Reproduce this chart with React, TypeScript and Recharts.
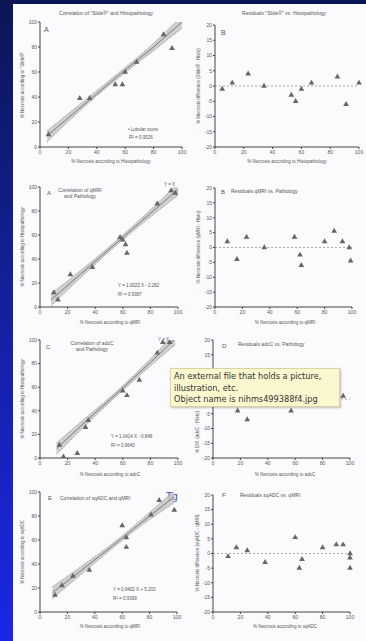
import { ComposedChart, Area, Line, Scatter, XAxis, YAxis, ZAxis, ReferenceLine } from 'recharts'
import type { ReactNode } from 'react'

// shared axis ticks
const necrosisTicks = [0, 20, 40, 60, 80, 100]
const residualTicks = [-20, -15, -10, -5, 0, 5, 10, 15, 20]
// the note box sits over the middle of panel D's axis
const adcResidualTicks = [-20, -15, -10, -5, 15, 20]

// A: Slide vs histopathology
const slidePoints = [
  { x: 6, y: 10 }, { x: 28, y: 39 }, { x: 35, y: 39 }, { x: 53, y: 50 }, { x: 58, y: 50 },
  { x: 60, y: 60 }, { x: 68, y: 68 }, { x: 87, y: 90 }, { x: 93, y: 79 },
]
const slideBandX = [5, 30, 55, 80, 100]
const slideFit = [9, 33, 57, 80, 100]
const slideLow = [4, 31, 55, 77, 95]
const slideHigh = [13, 36, 59, 83, 105]

// B: Slide residuals
const slideResiduals = [
  { x: 5, y: -1 }, { x: 12, y: 1 }, { x: 23, y: 4 }, { x: 34, y: 0 }, { x: 53, y: -3 },
  { x: 56, y: -5 }, { x: 60, y: -1 }, { x: 67, y: 1 }, { x: 85, y: 3 }, { x: 91, y: -6 }, { x: 100, y: 1 },
]

// A (2nd): qMRI vs pathology
const qmriPoints = [
  { x: 10, y: 12 }, { x: 13, y: 6 }, { x: 22, y: 27 }, { x: 38, y: 33 }, { x: 58, y: 58 }, { x: 60, y: 56 },
  { x: 62, y: 52 }, { x: 63, y: 45 }, { x: 85, y: 86 }, { x: 95, y: 97 }, { x: 98, y: 95 },
]
const qmriBandX = [8, 30, 55, 80, 100]
const qmriFit = [6, 28, 53, 78, 98]
const qmriLow = [1, 25, 51, 75, 93]
const qmriHigh = [11, 31, 55, 81, 103]

const qmriResiduals = [
  { x: 9, y: 2 }, { x: 16, y: -4 }, { x: 23, y: 3.5 }, { x: 36, y: 0 }, { x: 58, y: 3.5 }, { x: 62, y: -2.5 },
  { x: 63, y: -6 }, { x: 80, y: 2 }, { x: 87, y: 5.5 }, { x: 93, y: 2 }, { x: 98, y: 0 }, { x: 99, y: -4.5 },
]

// C: adcC vs pathology
const adcPoints = [
  { x: 14, y: 11 }, { x: 17, y: 1 }, { x: 27, y: 4 }, { x: 33, y: 26 }, { x: 35, y: 32 }, { x: 60, y: 57 },
  { x: 63, y: 53 }, { x: 72, y: 66 }, { x: 85, y: 89 }, { x: 89, y: 98 }, { x: 94, y: 98 },
]
const adcBandX = [12, 35, 55, 80, 98]
const adcFit = [8, 33, 54, 81, 101]
const adcLow = [3, 30, 52, 78, 96]
const adcHigh = [13, 36, 56, 84, 106]

const adcResiduals = [
  { x: 10, y: 3 }, { x: 18, y: -4 }, { x: 25, y: -7 }, { x: 40, y: 2 }, { x: 57, y: -4 },
  { x: 63, y: -1 }, { x: 72, y: 1 }, { x: 85, y: 3 }, { x: 91, y: -2 }, { x: 95, y: 1 },
]

// E: sqADC vs qMRI
const sqadcPoints = [
  { x: 11, y: 14 }, { x: 16, y: 22 }, { x: 24, y: 30 }, { x: 36, y: 35 }, { x: 60, y: 72 },
  { x: 63, y: 62 }, { x: 63, y: 54 }, { x: 81, y: 81 }, { x: 87, y: 93 }, { x: 98, y: 85 },
]
const sqadcBandX = [9, 35, 55, 80, 98]
const sqadcFit = [16, 39, 57, 80, 96]
const sqadcLow = [11, 36, 55, 77, 91]
const sqadcHigh = [21, 42, 59, 83, 101]

const sqadcResiduals = [
  { x: 11, y: -1 }, { x: 17, y: 2 }, { x: 25, y: 1 }, { x: 38, y: -3 }, { x: 60, y: 5.5 }, { x: 65, y: -2 },
  { x: 63, y: -5 }, { x: 80, y: 2 }, { x: 90, y: 3 }, { x: 95, y: 3 }, { x: 100, y: 0 }, { x: 100, y: -1.5 }, { x: 100, y: -5 },
]

const makeBand = (xs: number[], fit: number[], lo: number[], hi: number[]) =>
  xs.map((x, i) => ({ x, fit: fit[i], ci: [lo[i], hi[i]] }))

type Box = { x0: number; x1: number; y0: number; y1: number }
type Pt = { x: number; y: number }

const FONT = '"Liberation Sans", Arial, sans-serif'
const tickStyle = { fontSize: 5, fill: '#555', fontFamily: FONT }
const axisColor = '#444'
const markSize = 14

const YW = 16
const XH = 10
const MT = 4
const MR = 5

const Frame = ({ box, children }: { box: Box; children: ReactNode }) => (
  <div style={{ position: 'absolute', left: box.x0 - YW, top: box.y0 - MT }}>{children}</div>
)

const CorrelationPlot = ({ box, points, band }: { box: Box; points: Pt[]; band: ReturnType<typeof makeBand> }) => (
  <Frame box={box}>
    <ComposedChart
      width={box.x1 - box.x0 + YW + MR}
      height={box.y1 - box.y0 + MT + XH}
      data={band}
      margin={{ top: MT, right: MR, bottom: 0, left: 0 }}
    >
      <XAxis type="number" dataKey="x" domain={[0, 100]} ticks={necrosisTicks} interval={0}
        height={XH} tick={tickStyle} tickSize={2} tickMargin={1} stroke={axisColor} allowDataOverflow />
      <YAxis type="number" domain={[0, 100]} ticks={necrosisTicks} interval={0}
        width={YW} tick={tickStyle} tickSize={2} tickMargin={1} stroke={axisColor} allowDataOverflow />
      <ZAxis range={[markSize, markSize]} />
      <Area dataKey="ci" type="monotone" fill="#c4c4c4" fillOpacity={0.8} stroke="#777"
        strokeWidth={0.6} strokeDasharray="1.5 1" isAnimationActive={false} />
      <Line dataKey="fit" type="linear" stroke="#555" strokeWidth={0.7} dot={false} isAnimationActive={false} />
      <Scatter data={points} dataKey="y" shape="triangle" fill="#666" isAnimationActive={false} />
    </ComposedChart>
  </Frame>
)

const ResidualPlot = ({ box, points, ticks = residualTicks }: { box: Box; points: Pt[]; ticks?: number[] }) => (
  <Frame box={box}>
    <ComposedChart
      width={box.x1 - box.x0 + YW + MR}
      height={box.y1 - box.y0 + MT + XH}
      margin={{ top: MT, right: MR, bottom: 0, left: 0 }}
    >
      <XAxis type="number" dataKey="x" domain={[0, 100]} ticks={necrosisTicks} interval={0}
        height={XH} tick={tickStyle} tickSize={2} tickMargin={1} stroke={axisColor} />
      <YAxis type="number" domain={[-20, 20]} ticks={ticks} interval={0}
        width={YW} tick={tickStyle} tickSize={2} tickMargin={1} stroke={axisColor} />
      <ZAxis range={[markSize, markSize]} />
      <ReferenceLine y={0} stroke="#777" strokeWidth={0.6} strokeDasharray="2 2" />
      <Scatter data={points} dataKey="y" shape="triangle" fill="#666" isAnimationActive={false} />
    </ComposedChart>
  </Frame>
)

const Txt = ({ x, y, size = 5, color = '#555', center, children }: {
  x: number; y: number; size?: number; color?: string; center?: boolean; children: ReactNode
}) => (
  <div style={{
    position: 'absolute', left: x, top: y - size / 2, fontSize: size, lineHeight: 1,
    color, fontFamily: FONT, whiteSpace: 'nowrap',
    transform: center ? 'translateX(-50%)' : undefined,
  }}>{children}</div>
)

const VTxt = ({ x, y, children }: { x: number; y: number; children: ReactNode }) => (
  <div style={{
    position: 'absolute', left: x, top: y, fontSize: 4.5, lineHeight: 1, color: '#555',
    fontFamily: FONT, whiteSpace: 'nowrap', transform: 'translate(-50%, -50%) rotate(-90deg)',
  }}>{children}</div>
)

const rowBoxes = {
  a: { x0: 40, x1: 182, y0: 22, y1: 147 },
  b: { x0: 215, x1: 359, y0: 25, y1: 147 },
  c: { x0: 40, x1: 178, y0: 187, y1: 307 },
  d: { x0: 215, x1: 352, y0: 188, y1: 307 },
  e: { x0: 40, x1: 178, y0: 340, y1: 458 },
  f: { x0: 213, x1: 350, y0: 340, y1: 458 },
  g: { x0: 40, x1: 177, y0: 492, y1: 612 },
  h: { x0: 213, x1: 350, y0: 495, y1: 612 },
}

export default function App() {
  return (
    <div style={{
      position: 'absolute', left: 0, top: 0, width: 366, height: 641, overflow: 'hidden',
      background: 'linear-gradient(180deg, #0b1656 0%, #14209a 45%, #1b27e6 100%)',
    }}>
      <div style={{ position: 'absolute', left: 13, top: 4, right: 0, bottom: 0, background: '#fbfbfd' }} />

      {/* row 1 */}
      <Txt x={106} y={13} center>Correlation of "Slide®" and Histopathology</Txt>
      <Txt x={284} y={13} center>Residuals "Slide®" vs. Histopathology</Txt>
      <Txt x={44} y={29} size={7}>A</Txt>
      <Txt x={221} y={32} size={7}>B</Txt>
      <CorrelationPlot box={rowBoxes.a} points={slidePoints} band={makeBand(slideBandX, slideFit, slideLow, slideHigh)} />
      <ResidualPlot box={rowBoxes.b} points={slideResiduals} />
      <Txt x={128} y={130} size={4.5}>• Lobular score</Txt>
      <Txt x={129} y={138} size={4.5}>R² = 0.9526</Txt>
      <Txt x={111} y={162} center size={4.5}>% Necrosis according to Histopathology</Txt>
      <Txt x={287} y={162} center size={4.5}>% Necrosis according to Histopathology</Txt>
      <VTxt x={23} y={85}>% Necrosis according to "Slide®"</VTxt>
      <VTxt x={199} y={86}>% Necrosis difference (Slide® - Histo)</VTxt>

      {/* row 2 */}
      <Txt x={47} y={193} size={6}>A</Txt>
      <Txt x={80} y={190} center>Correlation of qMRI</Txt>
      <Txt x={80} y={196} center>and Pathology</Txt>
      <Txt x={164} y={185} size={4.5}>Y = X</Txt>
      <Txt x={221} y={192} size={6}>B</Txt>
      <Txt x={231} y={191}>Residuals qMRI vs. Pathology</Txt>
      <CorrelationPlot box={rowBoxes.c} points={qmriPoints} band={makeBand(qmriBandX, qmriFit, qmriLow, qmriHigh)} />
      <ResidualPlot box={rowBoxes.d} points={qmriResiduals} />
      <Txt x={118} y={286} size={4.5}>Y = 1.0023 X - 2.282</Txt>
      <Txt x={118} y={295} size={4.5}>R² = 0.9387</Txt>
      <Txt x={110} y={323} center size={4.5}>% Necrosis according to qMRI</Txt>
      <Txt x={285} y={323} center size={4.5}>% Necrosis according to qMRI</Txt>
      <VTxt x={23} y={247}>% Necrosis according to Histopathology</VTxt>
      <VTxt x={199} y={247}>% Necrosis difference (qMRI - Histo)</VTxt>

      {/* row 3 */}
      <Txt x={46} y={347} size={6}>C</Txt>
      <Txt x={92} y={343} center>Correlation of adcC</Txt>
      <Txt x={92} y={349} center>and Pathology</Txt>
      <Txt x={158} y={340} size={4.5} color="#4a5fb0">Y = X</Txt>
      <Txt x={222} y={346} size={6}>D</Txt>
      <Txt x={238} y={344}>Residuals adcC vs. Pathology</Txt>
      <CorrelationPlot box={rowBoxes.e} points={adcPoints} band={makeBand(adcBandX, adcFit, adcLow, adcHigh)} />
      <ResidualPlot box={rowBoxes.f} points={adcResiduals} ticks={adcResidualTicks} />
      <Txt x={111} y={437} size={4.5}>Y = 1.0414 X - 0.848</Txt>
      <Txt x={111} y={446} size={4.5}>R² = 0.9640</Txt>
      <Txt x={110} y={475} center size={4.5}>% Necrosis according to adcC</Txt>
      <Txt x={285} y={475} center size={4.5}>% Necrosis according to adcC</Txt>
      <VTxt x={23} y={399}>% Necrosis according to Histopathology</VTxt>
      <VTxt x={198} y={432}>% Diff. (adcC - Histo)</VTxt>

      {/* row 4 */}
      <Txt x={48} y={498} size={6}>E</Txt>
      <Txt x={60} y={498}>Correlation of sqADC and qMRI</Txt>
      <Txt x={166} y={497} size={10} color="#3347b8">Tg</Txt>
      <Txt x={222} y={495} size={6}>F</Txt>
      <Txt x={240} y={495}>Residuals sqADC vs. qMRI</Txt>
      <CorrelationPlot box={rowBoxes.g} points={sqadcPoints} band={makeBand(sqadcBandX, sqadcFit, sqadcLow, sqadcHigh)} />
      <ResidualPlot box={rowBoxes.h} points={sqadcResiduals} />
      <Txt x={113} y={590} size={4.5}>Y = 0.9402 X + 5.203</Txt>
      <Txt x={113} y={599} size={4.5}>R² = 0.9399</Txt>
      <Txt x={110} y={627} center size={4.5}>% Necrosis according to qMRI</Txt>
      <Txt x={285} y={627} center size={4.5}>% Necrosis according to sqADC</Txt>
      <VTxt x={23} y={552}>% Necrosis according to sqADC</VTxt>
      <VTxt x={198} y={553}>% Necrosis difference (sqADC - qMRI)</VTxt>

      {/* hover note over the embedded figure */}
      <div style={{
        position: 'absolute', left: 170, top: 368, width: 170, height: 39, boxSizing: 'border-box',
        background: '#fbf8cf', border: '1px solid #d9d4a2', boxShadow: '1px 1px 2px rgba(0,0,0,0.25)',
        padding: '2px 3px', fontFamily: '"DejaVu Sans", sans-serif', fontSize: 8.2, lineHeight: '11.5px', color: '#333',
        whiteSpace: 'nowrap',
      }}>
        <div>An external file that holds a picture,</div>
        <div>illustration, etc.</div>
        <div>Object name is nihms499388f4.jpg</div>
      </div>
    </div>
  )
}
